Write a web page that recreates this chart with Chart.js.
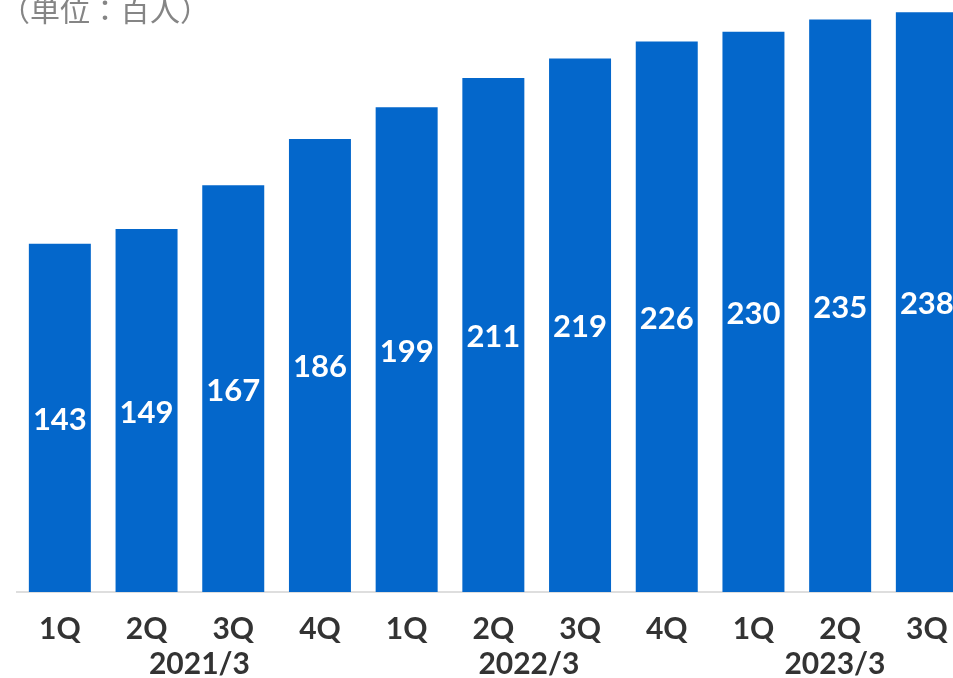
<!DOCTYPE html>
<html>
<head>
<meta charset="utf-8">
<script src="https://cdn.jsdelivr.net/npm/chart.js@4.4.1/dist/chart.umd.min.js"></script>
<style>
  html, body { margin: 0; padding: 0; width: 953px; height: 678px; overflow: hidden; background: #fff; }
  #wrap { position: absolute; left: 0; top: 0; width: 975px; height: 678px; }
</style>
</head>
<body>
<div id="wrap"><canvas id="c" width="975" height="678"></canvas></div>
<script>
const quarters = ["1Q", "2Q", "3Q", "4Q", "1Q", "2Q", "3Q", "4Q", "1Q", "2Q", "3Q"];
const values = [143, 149, 167, 186, 199, 211, 219, 226, 230, 235, 238];
const fiscalYears = ["2021/3", "2022/3", "2023/3"];
const fiscalYearPositions = [1.61, 5.41, 8.94];
const unitLabel = "（単位：百人）";

const BAR_COLOR = "#0467CB";
const TEXT_COLOR = "#333333";

const overlayPlugin = {
  id: "overlay",
  afterDatasetsDraw(chart) {
    const ctx = chart.ctx;
    const meta = chart.getDatasetMeta(0);
    ctx.save();
    ctx.fillStyle = "#ffffff";
    ctx.font = "bold 31px Lato";
    ctx.textAlign = "center";
    ctx.textBaseline = "middle";
    meta.data.forEach((bar, i) => {
      const y = (bar.y + bar.base) / 2;
      ctx.fillText(String(values[i]), bar.x, y + 2);
    });
    ctx.restore();
  },
  afterDraw(chart) {
    const ctx = chart.ctx;
    const xs = chart.scales.x;
    ctx.save();
    ctx.fillStyle = TEXT_COLOR;
    ctx.font = "bold 30px Lato";
    ctx.textAlign = "center";
    ctx.textBaseline = "middle";
    fiscalYears.forEach((fy, i) => {
      ctx.fillText(fy, xs.getPixelForValue(fiscalYearPositions[i]), 664);
    });
    ctx.fillStyle = "#858585";
    ctx.font = "30px 'Noto Sans CJK JP'";
    ctx.textAlign = "left";
    ctx.textBaseline = "alphabetic";
    ctx.fillText(unitLabel, 0, 21);
    ctx.restore();
  }
};

new Chart(document.getElementById("c"), {
  type: "bar",
  data: {
    labels: quarters,
    datasets: [{
      data: values,
      backgroundColor: BAR_COLOR,
      borderWidth: 0,
      categoryPercentage: 1.0,
      barPercentage: 0.715
    }]
  },
  options: {
    responsive: false,
    animation: false,
    devicePixelRatio: 1,
    layout: { padding: { left: 16.5, right: 4.8, top: 7.4, bottom: 0 } },
    plugins: { legend: { display: false }, tooltip: { enabled: false } },
    scales: {
      y: {
        display: false,
        min: 0,
        max: 240
      },
      x: {
        grid: { display: false, drawTicks: false },
        border: { display: true, color: "#dedede", width: 2 },
        ticks: {
          color: TEXT_COLOR,
          font: { family: "Lato", weight: "bold", size: 30 },
          padding: 19,
          maxRotation: 0,
          autoSkip: false
        },
        afterFit(scale) { scale.height = 86; }
      }
    }
  },
  plugins: [overlayPlugin]
});
</script>
</body>
</html>
